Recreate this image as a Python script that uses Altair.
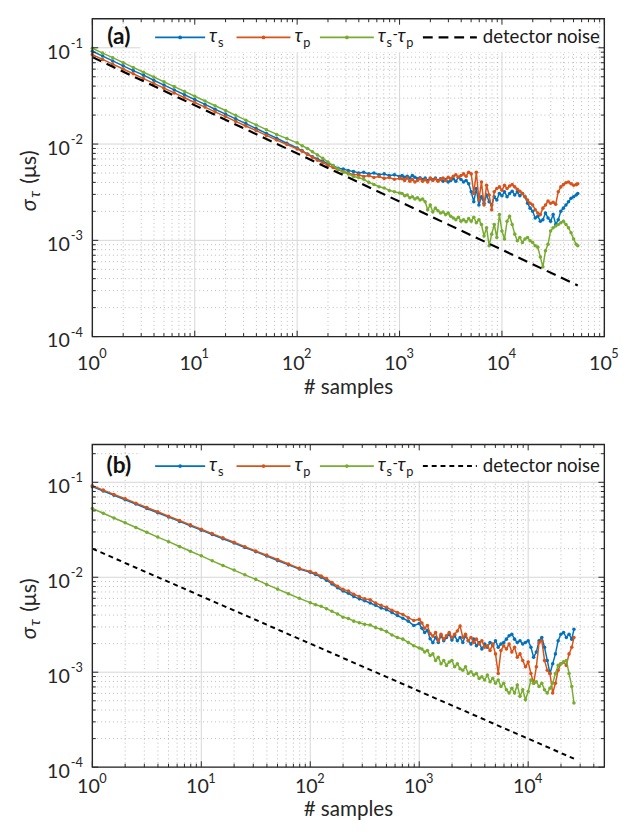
import altair as alt
import pandas as pd

# ---------------- data ----------------
n_a = [1, 1.26, 1.58, 2, 2.51, 3.16, 3.98, 5.01, 6.31, 7.94,
       10, 12.6, 15.8, 20, 25.1, 31.6, 39.8, 50.1, 63.1, 79.4,
       100, 112, 126, 141, 158, 178, 200, 224, 251, 282,
       316, 355, 398, 447, 501, 562, 631, 708, 794, 891,
       1000, 1059, 1122, 1189, 1259, 1334, 1413, 1496, 1585, 1679,
       1778, 1884, 1995, 2113, 2239, 2371, 2512, 2661, 2818, 2985,
       3162, 3350, 3548, 3758, 3981, 4217, 4467, 4732, 5012, 5309,
       5623, 5957, 6310, 6683, 7079, 7499, 7943, 8414, 8913, 9441,
       10000, 10593, 11220, 11885, 12589, 13335, 14125, 14962, 15849, 16788,
       17783, 18836, 19953, 21135, 22387, 23714, 25119, 26607, 28184, 29854,
       31623, 33497, 35481, 37584, 39811, 42170, 44668, 47315, 50119, 53088, 55000]

tau_s_a = [0.092, 0.082, 0.073, 0.065, 0.058, 0.052, 0.046, 0.041, 0.0365, 0.0325,
           0.029, 0.0258, 0.0230, 0.0205, 0.0183, 0.0163, 0.0145, 0.0129, 0.0115, 0.0102,
           0.0091, 0.0085, 0.0079, 0.0074, 0.0070, 0.0066, 0.0063, 0.0060, 0.0056, 0.0055,
           0.0053, 0.0052, 0.0050, 0.0051, 0.0049, 0.0050, 0.0048, 0.0049, 0.0047, 0.0048,
           0.0046, 0.00471, 0.00453, 0.00464, 0.00443, 0.00471, 0.00453, 0.00436, 0.00446, 0.00429,
           0.00443, 0.00419, 0.00436, 0.00426, 0.00443, 0.00419, 0.00436, 0.00410, 0.00429, 0.00403,
           0.00419, 0.00436, 0.00410, 0.00453, 0.00429, 0.00403, 0.00419, 0.00388, 0.00319, 0.00252,
           0.00345, 0.00233, 0.00284, 0.00243, 0.00295, 0.00252, 0.00233, 0.00284, 0.00263, 0.00307,
           0.00290, 0.00319, 0.00284, 0.00307, 0.00324, 0.00295, 0.00319, 0.00290, 0.00307, 0.00284,
           0.00243, 0.00216, 0.00200, 0.00171, 0.00178, 0.00158, 0.00164, 0.00192, 0.00171, 0.00158,
           0.00185, 0.00146, 0.00164, 0.00200, 0.00216, 0.00233, 0.00252, 0.00273, 0.00284, 0.00295, 0.00307]

tau_p_a = [0.085, 0.0757, 0.0676, 0.0602, 0.0537, 0.0479, 0.0427, 0.0381, 0.034, 0.0303,
           0.027, 0.0242, 0.0216, 0.0193, 0.0172, 0.0154, 0.0138, 0.0123, 0.011, 0.0099,
           0.0089, 0.0084, 0.0078, 0.0073, 0.0068, 0.0064, 0.0060, 0.0057, 0.0054, 0.0052,
           0.0050, 0.0048, 0.0048, 0.0046, 0.0047, 0.0045, 0.0046, 0.0044, 0.0045, 0.0043,
           0.0044, 0.00436, 0.00419, 0.00443, 0.00410, 0.00429, 0.00403, 0.00419, 0.00436, 0.00410,
           0.00426, 0.00403, 0.00443, 0.00419, 0.00436, 0.00410, 0.00429, 0.00443, 0.00419, 0.00453,
           0.00436, 0.00464, 0.00479, 0.00453, 0.00471, 0.00490, 0.00464, 0.00510, 0.00490, 0.00307,
           0.00510, 0.00263, 0.00403, 0.00233, 0.00373, 0.00295, 0.00208, 0.00319, 0.00345, 0.00359,
           0.00332, 0.00373, 0.00345, 0.00367, 0.00379, 0.00359, 0.00340, 0.00324, 0.00307, 0.00284,
           0.00263, 0.00243, 0.00233, 0.00208, 0.00192, 0.00185, 0.00216, 0.00233, 0.00256, 0.00243,
           0.00249, 0.00237, 0.00319, 0.00359, 0.00379, 0.00397, 0.00403, 0.00388, 0.00373, 0.00379, 0.00388]

diff_a = [0.099, 0.088, 0.079, 0.070, 0.0625, 0.0557, 0.0497, 0.0443, 0.0395, 0.0352,
          0.0314, 0.028, 0.025, 0.0223, 0.0199, 0.0177, 0.0158, 0.0141, 0.0126, 0.0114,
          0.0103, 0.0096, 0.0090, 0.0083, 0.0077, 0.0071, 0.0065, 0.0060, 0.0055, 0.0051,
          0.0049, 0.0046, 0.0045, 0.0043, 0.0040, 0.0038, 0.0036, 0.0035, 0.0033, 0.0032,
          0.0031, 0.00307, 0.00290, 0.00295, 0.00277, 0.00284, 0.00269, 0.00277, 0.00263, 0.00269,
          0.00252, 0.00208, 0.00233, 0.00197, 0.00216, 0.00203, 0.00192, 0.00197, 0.00185, 0.00192,
          0.00178, 0.00171, 0.00164, 0.00174, 0.00158, 0.00164, 0.00156, 0.00168, 0.00158, 0.00174,
          0.00152, 0.00164, 0.00146, 0.00111, 0.00135, 0.00088, 0.00116, 0.00146, 0.00107, 0.00185,
          0.00125, 0.00103, 0.00158, 0.00178, 0.00146, 0.00116, 0.00099, 0.00107, 0.00095, 0.00103,
          0.00107, 0.00099, 0.00095, 0.00088, 0.00085, 0.00067, 0.00053, 0.00078, 0.00091, 0.00125,
          0.00135, 0.00141, 0.00146, 0.00152, 0.00158, 0.00146, 0.00135, 0.00120, 0.00103, 0.00091, 0.00088]

noise_n_a = [1, 55000]
noise_a = [0.080, 0.00034]

n_b = [1, 1.26, 1.58, 2, 2.51, 3.16, 3.98, 5.01, 6.31, 7.94,
       10, 12.6, 15.8, 20, 25.1, 31.6, 39.8, 50.1, 63.1, 79.4,
       100, 112, 126, 141, 158, 178, 200, 224, 251, 282,
       316, 355, 398, 447, 501, 562, 631, 708, 794, 891,
       1000, 1059, 1122, 1189, 1259, 1334, 1413, 1496, 1585, 1679,
       1778, 1884, 1995, 2113, 2239, 2371, 2512, 2661, 2818, 2985,
       3162, 3350, 3548, 3758, 3981, 4217, 4467, 4732, 5012, 5309,
       5623, 5957, 6310, 6683, 7079, 7499, 7943, 8414, 8913, 9441,
       10000, 10593, 11220, 11885, 12589, 13335, 14125, 14962, 15849, 16788,
       17783, 18836, 19953, 21135, 22387, 23714, 25119, 26300]

tau_s_b = [0.090, 0.081, 0.073, 0.0655, 0.059, 0.053, 0.0478, 0.043, 0.0387, 0.0348,
           0.0313, 0.0282, 0.0254, 0.0229, 0.0206, 0.0186, 0.0167, 0.0150, 0.0135, 0.0122,
           0.0113, 0.0107, 0.0100, 0.00932, 0.0085, 0.00775, 0.00715, 0.00678, 0.00626, 0.00592,
           0.00565, 0.00535, 0.00506, 0.00474, 0.00456, 0.00425, 0.00395, 0.00370, 0.00345, 0.00310,
           0.00325, 0.00290, 0.00262, 0.00275, 0.00225, 0.00205, 0.00232, 0.00206, 0.00242, 0.00215,
           0.00232, 0.00251, 0.00218, 0.00242, 0.00215, 0.00232, 0.00206, 0.00242, 0.00215, 0.00198,
           0.00223, 0.00190, 0.00206, 0.00176, 0.00198, 0.00183, 0.00206, 0.00190, 0.00215, 0.00183,
           0.00198, 0.00206, 0.00223, 0.00242, 0.00251, 0.00223, 0.00206, 0.00215, 0.00198, 0.00206,
           0.00215, 0.00183, 0.00144, 0.00163, 0.00215, 0.00232, 0.00183, 0.00133, 0.00097, 0.00123,
           0.00156, 0.00215, 0.00251, 0.00262, 0.00232, 0.00251, 0.00223, 0.00283]

tau_p_b = [0.092, 0.0827, 0.0745, 0.067, 0.0603, 0.0543, 0.0489, 0.044, 0.0396, 0.0356,
           0.032, 0.0288, 0.026, 0.0234, 0.021, 0.0189, 0.0171, 0.0154, 0.0138, 0.0124,
           0.0115, 0.0110, 0.0103, 0.00969, 0.00881, 0.00805, 0.00745, 0.00717, 0.00662, 0.00626,
           0.00592, 0.00579, 0.00535, 0.00506, 0.00482, 0.00450, 0.00425, 0.00405, 0.00375, 0.00350,
           0.00360, 0.00330, 0.00290, 0.00310, 0.00255, 0.00240, 0.00262, 0.00215, 0.00251, 0.00223,
           0.00242, 0.00262, 0.00232, 0.00251, 0.00272, 0.00307, 0.00232, 0.00251, 0.00215, 0.00232,
           0.00206, 0.00223, 0.00198, 0.00215, 0.00183, 0.00190, 0.00169, 0.00198, 0.00156, 0.00097,
           0.00169, 0.00190, 0.00176, 0.00198, 0.00163, 0.00183, 0.00144, 0.00156, 0.00133, 0.00114,
           0.00128, 0.00097, 0.000765, 0.00114, 0.00206, 0.00215, 0.00133, 0.00105, 0.00097, 0.000603,
           0.000765, 0.00105, 0.00123, 0.00128, 0.00118, 0.00156, 0.00183, 0.00232]

diff_b = [0.053, 0.0472, 0.0421, 0.0375, 0.0334, 0.0298, 0.0265, 0.0237, 0.0211, 0.0188,
          0.0168, 0.0149, 0.0133, 0.0119, 0.0106, 0.0095, 0.0084, 0.0075, 0.0067, 0.0060,
          0.0054, 0.00514, 0.00494, 0.00467, 0.00438, 0.00411, 0.0038, 0.00368, 0.00345, 0.00332,
          0.00319, 0.00314, 0.00295, 0.00283, 0.00268, 0.00247, 0.00232, 0.00223, 0.00206, 0.0019,
          0.0018, 0.00176, 0.00163, 0.00169, 0.00150, 0.00156, 0.00133, 0.00144, 0.00123, 0.00133,
          0.00118, 0.00128, 0.00133, 0.00114, 0.00123, 0.00109, 0.00105, 0.00114, 0.00097, 0.00101,
          0.000932, 0.00097, 0.000861, 0.000896, 0.000828, 0.000932, 0.000795, 0.000861, 0.000765, 0.000828,
          0.000707, 0.000765, 0.000653, 0.000603, 0.000679, 0.000603, 0.000735, 0.000557, 0.000653, 0.000514,
          0.000627, 0.000828, 0.000765, 0.000795, 0.000707, 0.000765, 0.000653, 0.000603, 0.000679, 0.000765,
          0.00097, 0.00118, 0.00123, 0.00128, 0.00133, 0.00097, 0.000707, 0.000475]

noise_n_b = [1, 26300]
noise_b = [0.020, 0.000123]

# ---------------- style ----------------
FONT = "Lato"
BLUE, ORANGE, GREEN = "#0072BD", "#D95319", "#77AC30"
AXC = "#262626"
W = 522


def one():
    return alt.Chart(pd.DataFrame({"z": [0]}))


def txt(text, x, y, size, **kw):
    color = kw.pop("color", AXC)
    return one().mark_text(text=text, fontSize=size, font=FONT, color=color, **kw).encode(
        x=alt.value(x), y=alt.value(y))


def panel(n, s_vals, p_vals, d_vals, nn, nv, xmax, ymax, H, tag, dash, dashw,
          ly, box_bottom, xlab_dy, xexp_dy, xtitle_dy):
    xs = alt.Scale(type="log", domain=[1, xmax], nice=False)
    ys = alt.Scale(type="log", domain=[1e-4, ymax], nice=False)

    def X(f):
        return alt.X(f, type="quantitative", scale=xs, axis=None)

    def Y(f):
        return alt.Y(f, type="quantitative", scale=ys, axis=None)

    xmaj = [v for v in [1, 10, 100, 1000, 10000, 100000] if v <= xmax]
    xexp = [str(i) for i in range(len(xmaj))]
    xmin = [m * 10 ** k for k in range(0, 5) for m in range(2, 10) if m * 10 ** k < xmax]
    ymaj = [1e-4, 1e-3, 1e-2, 1e-1]
    yexp = ["-4", "-3", "-2", "-1"]
    ymin = [m * 10.0 ** k for k in range(-4, 0) for m in range(2, 10) if m * 10.0 ** k < ymax]

    dxmaj = pd.DataFrame({"v": xmaj, "e": xexp})
    dxmin = pd.DataFrame({"v": xmin})
    dymaj = pd.DataFrame({"v": ymaj, "e": yexp})
    dymin = pd.DataFrame({"v": ymin})

    layers = []
    # grid
    layers.append(alt.Chart(dxmin).mark_rule(color="#a8a8a8", strokeWidth=0.8, strokeDash=[1, 3]).encode(x=X("v")))
    layers.append(alt.Chart(dymin).mark_rule(color="#a8a8a8", strokeWidth=0.8, strokeDash=[1, 3]).encode(y=Y("v")))
    layers.append(alt.Chart(dxmaj).mark_rule(color="#d6d6d6", strokeWidth=1).encode(x=X("v")))
    layers.append(alt.Chart(dymaj).mark_rule(color="#d6d6d6", strokeWidth=1).encode(y=Y("v")))

    # data
    for vals, col in [(s_vals, BLUE), (p_vals, ORANGE), (d_vals, GREEN)]:
        df = pd.DataFrame({"n": n, "s": vals})
        layers.append(alt.Chart(df).mark_line(
            color=col, strokeWidth=1.5,
            point=alt.OverlayMarkDef(color=col, filled=True, size=13, opacity=1)
        ).encode(x=X("n"), y=Y("s")))
    dfn = pd.DataFrame({"n": nn, "s": nv})
    layers.append(alt.Chart(dfn).mark_line(color="black", strokeWidth=dashw, strokeDash=dash).encode(
        x=X("n"), y=Y("s")))

    # legend
    layers.append(one().mark_rect(fill="white").encode(
        x=alt.value(49), x2=alt.value(513), y=alt.value(1), y2=alt.value(box_bottom)))
    for x1, x2, col in [(64, 115, BLUE), (147, 202, ORANGE), (232, 287, GREEN)]:
        layers.append(one().mark_rule(color=col, strokeWidth=1.8).encode(
            x=alt.value(x1), x2=alt.value(x2), y=alt.value(ly)))
        layers.append(one().mark_point(color=col, filled=True, size=14, opacity=1).encode(
            x=alt.value((x1 + x2) / 2), y=alt.value(ly)))
    layers.append(one().mark_rule(color="black", strokeWidth=dashw, strokeDash=dash).encode(
        x=alt.value(337), x2=alt.value(392), y=alt.value(ly)))
    it = dict(align="left", baseline="middle", color="#1a1a1a")
    layers += [
        txt("τ", 119, ly - 1, 19, fontStyle="italic", **it),
        txt("s", 128, ly + 6, 13, **it),
        txt("τ", 206, ly - 1, 19, fontStyle="italic", **it),
        txt("p", 215, ly + 6, 13, **it),
        txt("τ", 291, ly - 1, 19, fontStyle="italic", **it),
        txt("s", 300, ly + 6, 13, **it),
        txt("-", 306, ly - 3, 15, **it),
        txt("τ", 311, ly - 1, 19, fontStyle="italic", **it),
        txt("p", 320, ly + 6, 13, **it),
        txt("detector noise", 398, ly, 19, **it),
    ]
    layers.append(txt(tag, 27, ly, 23, fontWeight="bold", align="center", baseline="middle", color="#111111"))

    # inward ticks on all four sides
    for dfv, L in [(dxmaj, 6), (dxmin, 3.5)]:
        layers.append(alt.Chart(dfv).mark_rule(color=AXC, strokeWidth=1).encode(
            x=X("v"), y=alt.value(H), y2=alt.value(H - L)))
        layers.append(alt.Chart(dfv).mark_rule(color=AXC, strokeWidth=1).encode(
            x=X("v"), y=alt.value(0), y2=alt.value(L)))
    for dfv, L in [(dymaj, 6), (dymin, 3.5)]:
        layers.append(alt.Chart(dfv).mark_rule(color=AXC, strokeWidth=1).encode(
            y=Y("v"), x=alt.value(0), x2=alt.value(L)))
        layers.append(alt.Chart(dfv).mark_rule(color=AXC, strokeWidth=1).encode(
            y=Y("v"), x=alt.value(W), x2=alt.value(W - L)))

    # frame
    layers.append(one().mark_rect(fill="transparent", stroke=AXC, strokeWidth=1.4).encode(
        x=alt.value(0), x2=alt.value(W), y=alt.value(0), y2=alt.value(H)))

    # tick labels
    layers.append(alt.Chart(dxmaj).mark_text(text="10", font=FONT, fontSize=20, color=AXC,
                                             align="center", baseline="middle", dx=-4).encode(
        x=X("v"), y=alt.value(H + xlab_dy)))
    layers.append(alt.Chart(dxmaj).mark_text(font=FONT, fontSize=13, color=AXC,
                                             align="left", baseline="middle", dx=7).encode(
        x=X("v"), y=alt.value(H + xexp_dy), text="e:N"))
    layers.append(alt.Chart(dymaj).mark_text(text="10", font=FONT, fontSize=20, color=AXC,
                                             align="right", baseline="middle", dy=5).encode(
        y=Y("v"), x=alt.value(-23)))
    layers.append(alt.Chart(dymaj).mark_text(font=FONT, fontSize=13, color=AXC,
                                             align="left", baseline="middle", dy=-4).encode(
        y=Y("v"), x=alt.value(-22), text="e:N"))

    # axis titles
    layers.append(txt("# samples", W / 2, H + xtitle_dy, 21, align="center", baseline="middle"))
    c = H / 2
    layers += [
        txt("σ", -64, c + 28, 22, angle=270, fontStyle="italic", align="center", baseline="middle"),
        txt("τ", -58, c + 17, 16, angle=270, fontStyle="italic", align="center", baseline="middle"),
        txt("(μs)", -64, c - 11, 22, angle=270, align="center", baseline="middle"),
    ]

    return alt.layer(*layers).properties(width=W, height=H)


pa = panel(n_a, tau_s_a, tau_p_a, diff_a, noise_n_a, noise_a, 1e5, 0.2, 324, "(a)",
           [10, 6], 2.2, 19, 34, 28, 18, 53)
pb = panel(n_b, tau_s_b, tau_p_b, diff_b, noise_n_b, noise_b, 5e4, 0.25, 329, "(b)",
           [5, 4], 2.0, 22, 37, 20, 12, 44)

chart = alt.vconcat(pa, pb, spacing=44).properties(
    padding={"left": 10, "top": 1, "right": 2, "bottom": 0}
).configure_view(stroke="transparent")

chart.save("out.html", embed_options={"renderer": "svg", "actions": False})
